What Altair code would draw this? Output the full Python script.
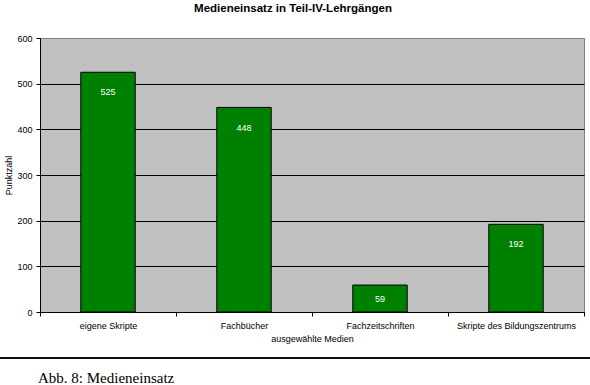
import altair as alt
import pandas as pd

categories = ["eigene Skripte", "Fachbücher", "Fachzeitschriften", "Skripte des Bildungszentrums"]
values = [525, 448, 59, 192]

df = pd.DataFrame({"Medium": categories, "Punktzahl": values})

FONT = "Liberation Sans"

x_enc = alt.X(
    "Medium:N",
    sort=categories,
    scale=alt.Scale(paddingInner=0, paddingOuter=0),
    axis=alt.Axis(
        title="ausgewählte Medien",
        labelAngle=0,
        tickBand="extent",
        tickSize=4,
        tickColor="black",
        domainColor="black",
        labelPadding=5,
        titlePadding=4,
        labelFontSize=9,
        titleFontSize=9,
        titleFontWeight="normal",
        labelColor="black",
        titleColor="black",
        labelFont=FONT,
        titleFont=FONT,
    ),
)

y_scale = alt.Scale(domain=[0, 600], nice=False)

bars = alt.Chart(df).mark_bar(
    width={"band": 0.4}, color="#008000", stroke="black", strokeWidth=1
).encode(
    x=x_enc,
    y=alt.Y(
        "Punktzahl:Q",
        scale=y_scale,
        axis=alt.Axis(
            title="Punktzahl",
            values=[0, 100, 200, 300, 400, 500, 600],
            grid=True,
            gridColor={"condition": {"test": "datum.value === 600", "value": "#808080"}, "value": "black"},
            gridOpacity=1,
            tickSize=4,
            tickColor="black",
            domainColor="black",
            labelPadding=4,
            titlePadding=3,
            labelFontSize=9,
            titleFontSize=9,
            titleFontWeight="normal",
            labelColor="black",
            titleColor="black",
            labelFont=FONT,
            titleFont=FONT,
        ),
    ),
)

labels = alt.Chart(df).transform_calculate(
    lpos="datum.Punktzahl > 90 ? datum.Punktzahl - 44 : datum.Punktzahl / 2"
).mark_text(
    color="white", fontSize=9, font=FONT, baseline="middle"
).encode(
    x=alt.X("Medium:N", sort=categories),
    y=alt.Y("lpos:Q", scale=y_scale),
    text="Punktzahl:Q",
)

sep = alt.Chart(df).mark_rule(color="black", strokeWidth=1, clip=False).encode(
    x=alt.value(-40), x2=alt.value(550), y=alt.value(320)
)

caption = alt.Chart(pd.DataFrame({"t": ["Abb. 8: Medieneinsatz"]})).mark_text(
    font="Liberation Serif", fontSize=15, align="left", baseline="alphabetic",
    color="black", clip=False
).encode(
    x=alt.value(-2), y=alt.value(345), text="t:N"
)

chart = alt.layer(bars, labels, sep, caption).properties(
    width=544,
    height=274,
    autosize=alt.AutoSizeParams(type="none"),
    padding={"left": 40, "top": 38, "right": 6, "bottom": 73},
    background="white",
    title=alt.TitleParams(
        "Medieneinsatz in Teil-IV-Lehrgängen",
        font=FONT,
        fontSize=11.5,
        fontWeight="bold",
        color="black",
        anchor="middle",
        baseline="alphabetic",
        offset=11,
        dx=-19,
    ),
).configure_view(
    fill="#C0C0C0", stroke="#808080", strokeWidth=1
)

chart.save("out.html", embed_options={"renderer": "svg", "actions": False})
